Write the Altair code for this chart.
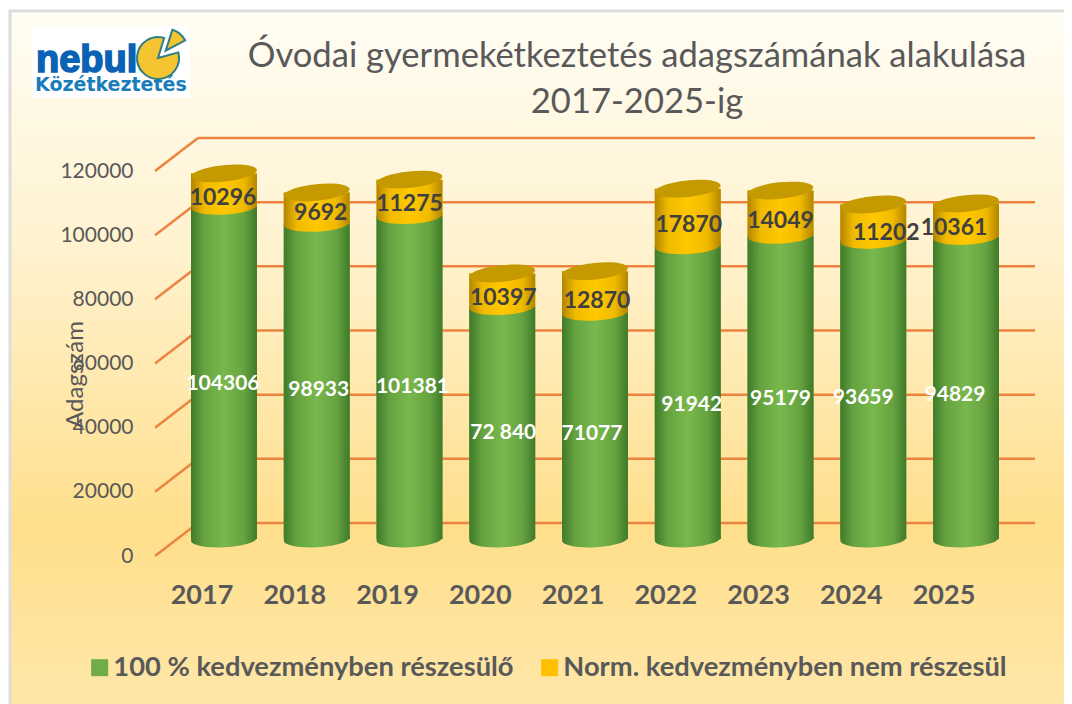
import altair as alt
import pandas as pd

YEARS = ["2017", "2018", "2019", "2020", "2021", "2022", "2023", "2024", "2025"]
FULL = [104306, 98933, 101381, 72840, 71077, 91942, 95179, 93659, 94829]
NORM = [10296, 9692, 11275, 10397, 12870, 17870, 14049, 11202, 10361]
FULL_TEXT = ["104306", "98933", "101381", "72 840", "71077", "91942", "95179", "93659", "94829"]
TICKS = [0, 20000, 40000, 60000, 80000, 100000, 120000]
S1 = "100 % kedvezményben részesülő"
S2 = "Norm. kedvezményben nem részesül"
TITLE = ["Óvodai gyermekétkeztetés adagszámának alakulása", "2017-2025-ig"]

FONT = "Lato"
GREY = "#595959"
W, H = 880, 418
PL, PT = 147, 130  # plot origin on page = (155,138)

df = pd.DataFrame({"year": YEARS, "full": FULL, "norm": NORM, "full_text": FULL_TEXT})
df["total"] = df.full + df.norm
df["mid_full"] = df.full / 2
df["mid_norm"] = df.full + df.norm / 2
df["norm_text"] = df.norm.astype(str)
ticks = pd.DataFrame({"v": TICKS})
long = pd.concat([
    pd.DataFrame({"year": YEARS, "series": S1, "lo": [0] * 9, "hi": FULL}),
    pd.DataFrame({"year": YEARS, "series": S2, "lo": FULL, "hi": df.total}),
])
one = pd.DataFrame({"a": [0]})

x_scale = alt.Scale(domain=YEARS, range=[22.6, 857.4], paddingInner=0.289, paddingOuter=0.1445)
x_axis = alt.Axis(domain=False, ticks=False, grid=False, labelAngle=0, labelFont=FONT,
                  labelFontSize=27, labelFontWeight="bold", labelColor=GREY,
                  labelPadding=26, labelOffset=-22, orient="bottom", zindex=1)
x_enc = alt.X("year:N", title=None, scale=x_scale, axis=x_axis)
grid_scale = alt.Scale(domain=[0, 130300], range=[H, 0], nice=False, zero=False)
bar_scale = alt.Scale(domain=[-5329, 125705], range=[H, 0], nice=False, zero=False)


def by(field):
    return alt.Y(f"{field}:Q", axis=None, scale=bar_scale, title=None)


def hgrad(edge, mid, light):
    return alt.Gradient(gradient="linear", x1=0, x2=1, y1=0, y2=0, stops=[
        alt.GradientStop(offset=0, color=edge), alt.GradientStop(offset=0.2, color=mid),
        alt.GradientStop(offset=0.5, color=light), alt.GradientStop(offset=0.8, color=mid),
        alt.GradientStop(offset=1, color=edge)])


GREEN = hgrad("#3F7A29", "#66A340", "#78B84C")
YELLOW = hgrad("#B28500", "#F0BA00", "#FFC800")
ELLIPSE = "M-0.995,0.105 A1,0.25 -6 1,1 0.995,-0.105 A1,0.25 -6 1,1 -0.995,0.105 Z"
ELLIPSE_LOW = "M-0.999,0.052 A1,0.25 -3 1,1 0.999,-0.052 A1,0.25 -3 1,1 -0.999,0.052 Z"
ELL_SIZE = 66 ** 2

bg_grad = alt.Gradient(gradient="linear", x1=0, x2=0, y1=0, y2=1, stops=[
    alt.GradientStop(offset=0, color="#FFFDF4"), alt.GradientStop(offset=0.33, color="#FFF2CF"),
    alt.GradientStop(offset=0.72, color="#FFDF8C"), alt.GradientStop(offset=1, color="#FFE8AC")])
panel = alt.Chart(one).mark_rect(fill=bg_grad, stroke="#DDDDDD", strokeWidth=3).encode(
    x=alt.value(-145), x2=alt.value(940), y=alt.value(-127), y2=alt.value(590))

logo_bg = alt.Chart(one).mark_rect(fill="white").encode(
    x=alt.value(-123), x2=alt.value(35), y=alt.value(-112), y2=alt.value(-40))
nebul = alt.Chart(one).mark_text(text="nebul", font="Liberation Sans", fontWeight="bold", fontSize=38,
                                 fill="#0A62B4", stroke="#0A62B4", strokeWidth=1.6, align="left",
                                 baseline="alphabetic").encode(x=alt.value(-119), y=alt.value(-66))
kozet = alt.Chart(one).mark_text(text="Közétkeztetés", font="DejaVu Sans", fontWeight="bold", fontSize=19,
                                 fill="#1A7DBB", align="left", baseline="alphabetic").encode(
    x=alt.value(-120), y=alt.value(-47))
pie = alt.Chart(one).mark_arc(theta=1.3, theta2=6.58, outerRadius=21, fill="#F5C431", stroke="#2F7E86",
                              strokeWidth=2).encode(x=alt.value(3), y=alt.value(-80))
slice_ = alt.Chart(one).mark_arc(theta=0.31, theta2=1.08, outerRadius=22, fill="#F5C431", stroke="#2F7E86",
                                 strokeWidth=2).encode(x=alt.value(10.7), y=alt.value(-87.3))

back = alt.Chart(ticks).mark_rule(color="#EC8440", strokeWidth=2.5, yOffset=-33).encode(
    x=alt.value(43), x2=alt.value(880),
    y=alt.Y("v:Q", scale=grid_scale, title=None, axis=None))
oblique = alt.Chart(ticks).mark_rule(color="#EC8440", strokeWidth=2.5, y2Offset=-33).encode(
    x=alt.value(0), x2=alt.value(43),
    y=alt.Y("v:Q", scale=grid_scale, title="Adagszám",
            axis=alt.Axis(values=TICKS, domain=False, ticks=False, grid=False, labelFont=FONT, labelFontSize=21,
                          labelColor=GREY, labelPadding=22, format="d", orient="left", zindex=1,
                          titleFont=FONT, titleFontSize=24, titleFontWeight="normal", titleColor=GREY,
                          titleX=-80, titleY=236, titleAngle=270, titleAlign="center", titleBaseline="middle")),
    y2=alt.Y2("v:Q"))

flat = alt.Chart(long).mark_bar().encode(
    x=x_enc, y=by("lo"), y2="hi:Q",
    color=alt.Color("series:N", scale=alt.Scale(domain=[S1, S2], range=["#70AD47", "#FFC000"]),
                    legend=alt.Legend(title=None, orient="none", legendX=-69, legendY=516, direction="horizontal",
                                      columns=2, symbolType="square", symbolSize=289, symbolStrokeWidth=0,
                                      labelFont=FONT, labelFontSize=27.3, labelFontWeight="bold", labelColor=GREY,
                                      labelOffset=0, columnPadding=22, labelLimit=600, padding=0, zindex=1)))

base_df = df.assign(zero=0)
bot = alt.Chart(base_df).mark_point(shape=ELLIPSE_LOW, size=ELL_SIZE, filled=True, fill=GREEN, opacity=1, strokeWidth=0).encode(x=x_enc, y=by("zero"))
gbar = alt.Chart(base_df).mark_bar(fill=GREEN).encode(x=x_enc, y=by("zero"), y2="full:Q")
ybar = alt.Chart(base_df).mark_bar(fill=YELLOW).encode(x=x_enc, y=by("full"), y2="total:Q")
ybot = alt.Chart(base_df).mark_point(shape=ELLIPSE_LOW, size=ELL_SIZE, filled=True, fill=YELLOW, opacity=1, strokeWidth=0).encode(x=x_enc, y=by("full"))
top = alt.Chart(base_df).mark_point(shape=ELLIPSE, size=ELL_SIZE, filled=True, fill="#C49A00", opacity=1, strokeWidth=0).encode(x=x_enc, y=by("total"))

white_nudge = {"2017": (-1, 11.4), "2018": (2, 8.8), "2019": (3, 9.7), "2020": (1, 10.2), "2021": (-3, 8.4),
               "2022": (4, 12.7), "2023": (0, 11.8), "2024": (-10, 8.4), "2025": (-11, 7.3)}
dark_nudge = {"2017": (-1, 8.2), "2018": (4, 5), "2019": (0, 6.4), "2020": (1, 8), "2021": (2, 9.3),
              "2022": (1, 7.8), "2023": (0, 8), "2024": (13, 10.6), "2025": (-12, 8)}
labels = []
for yr in YEARS:
    dx, dy = white_nudge[yr]
    labels.append(alt.Chart(base_df).transform_filter(alt.datum.year == yr).mark_text(
        font=FONT, fontSize=21, fontWeight="bold", color="white", dx=dx, dy=dy).encode(
        x=x_enc, y=by("mid_full"), text="full_text:N"))
    dx, dy = dark_nudge[yr]
    labels.append(alt.Chart(base_df).transform_filter(alt.datum.year == yr).mark_text(
        font=FONT, fontSize=23, fontWeight="bold", color="#404040", dx=dx, dy=dy).encode(
        x=x_enc, y=by("mid_norm"), text="norm_text:N"))

chart = alt.layer(panel, logo_bg, nebul, kozet, pie, slice_, back, oblique, flat, bot, gbar, ybar, ybot, top, *labels
).resolve_scale(y="independent").properties(
    width=W, height=H,
    padding={"left": PL, "top": PT, "right": 1056 - PL - W, "bottom": 696 - PT - H},
    autosize=alt.AutoSizeParams(type="none"),
    title=alt.TitleParams(text=TITLE, font=FONT, fontSize=34.6, fontWeight="normal", color=GREY, anchor="middle",
                          dx=42, dy=133, offset=22, lineHeight=46, zindex=1),
).configure_view(stroke=None).configure(background="white")

chart.save("out.html", embed_options={"renderer": "svg", "actions": False})
